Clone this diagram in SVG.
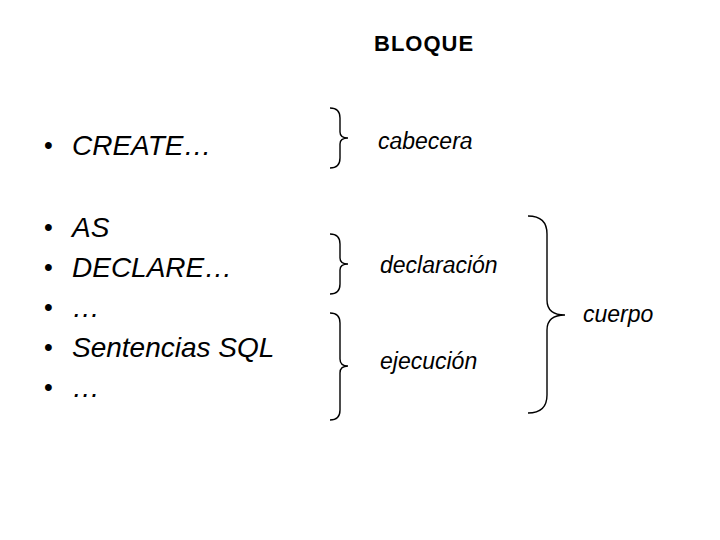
<svg xmlns="http://www.w3.org/2000/svg" width="720" height="540" viewBox="0 0 720 540">
<style>
.t{font-family:"Liberation Sans",Arial,sans-serif;fill:#000}
.li{font-size:28px;font-style:italic}
.bu{font-size:25px}
.lb{font-size:23px;font-style:italic}
.br{fill:none;stroke:#000;stroke-width:1.4}
</style>
<rect width="720" height="540" fill="#fff"/>
<g id="title"><text class="t" x="374" y="51" font-size="22" font-weight="bold" letter-spacing="1">BLOQUE</text></g>
<g id="list">
<text class="t bu" x="44" y="154">•</text><text class="t li" x="72" y="155">CREATE…</text>
<text class="t bu" x="44" y="236">•</text><text class="t li" x="72" y="237">AS</text>
<text class="t bu" x="44" y="276">•</text><text class="t li" x="72" y="277">DECLARE…</text>
<text class="t bu" x="44" y="316">•</text><text class="t li" x="72" y="317">…</text>
<text class="t bu" x="44" y="356">•</text><text class="t li" x="72" y="357">Sentencias SQL</text>
<text class="t bu" x="44" y="396">•</text><text class="t li" x="72" y="397">…</text>
</g>
<g id="connectors">
<path class="br" d="M330,108 Q340,108 340,118 L340,132 Q340,138 348,138 Q340,138 340,144 L340,158 Q340,168 330,168"/>
<path class="br" d="M330,234 Q340,234 340,244 L340,258 Q340,264 348,264 Q340,264 340,270 L340,284 Q340,294 330,294"/>
<path class="br" d="M330,313 Q340,313 340,323 L340,359 Q340,366 348,366 Q340,366 340,373 L340,410 Q340,420 330,420"/>
<path class="br" d="M528,216 Q547,216 547,234 L547,300 Q547,315 565,315 Q547,315 547,330 L547,395 Q547,413 528,413"/>
</g>
<g id="labels">
<text class="t lb" x="378" y="149">cabecera</text>
<text class="t lb" x="380" y="273">declaración</text>
<text class="t lb" x="380" y="369">ejecución</text>
<text class="t lb" x="583" y="322">cuerpo</text>
</g>
</svg>
